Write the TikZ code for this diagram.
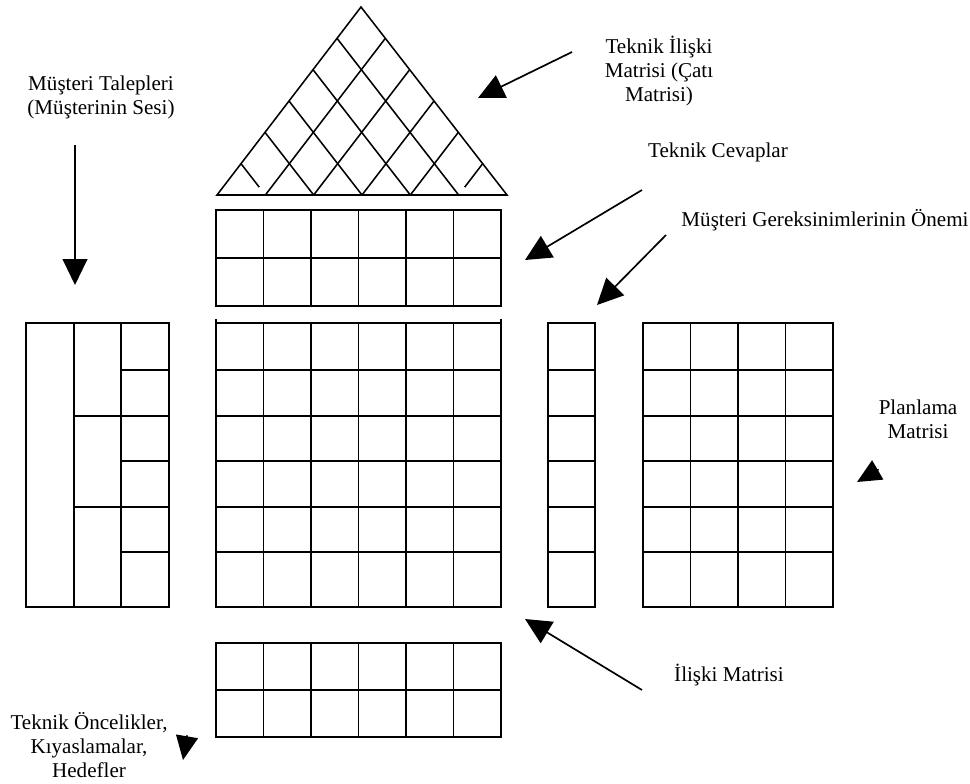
\documentclass[tikz,border=0pt]{standalone}
\usepackage{fontspec}
\setmainfont{Liberation Serif}
\usetikzlibrary{arrows.meta,calc}

\begin{document}
\begin{tikzpicture}[x=0.025cm, y=-0.025cm,
  cell/.style={line width=1.1pt},
  lbl/.style={align=center, font=\fontsize{15}{17}\selectfont, inner sep=0pt},
  bigarrow/.style={line width=1.2pt, -{Triangle[length=0.65cm,width=0.62cm]}},
  smallarrow/.style={line width=1.2pt, -{Triangle[length=0.6cm,width=0.55cm]}}]
  \useasboundingbox (0,0) rectangle (970,783);

  % Roof (correlation matrix)
  \coordinate (apex) at (361,7);
  \coordinate (lb) at (217,195);
  \coordinate (rb) at (507,195);
  \draw[cell] (lb) -- (apex) -- (rb) -- cycle;
  \foreach \i/\e in {1/1,2/1,3/1,4/1,5/0.75} {
    \coordinate (s) at ($(apex)!\i/6!(lb)$);
    \coordinate (t) at ($(rb)!\i/6!(lb)$);
    \draw[cell] (s) -- ($(s)!\e!(t)$);
    \coordinate (s) at ($(apex)!\i/6!(rb)$);
    \coordinate (t) at ($(lb)!\i/6!(rb)$);
    \draw[cell] (s) -- ($(s)!\e!(t)$);
  }

  % Technical responses
  \foreach \c in {0,...,5}
    \foreach \r in {0,1}
      \draw[cell] (216+47.5*\c,210+48*\r) rectangle ++(47.5,48);

  % Customer requirements
  \draw[cell] (26,323) rectangle (169,607);
  \draw[cell] (74,323) -- (74,607);
  \draw[cell] (121,323) -- (121,607);
  \foreach \y in {416,507}
    \draw[cell] (74,\y) -- (121,\y);
  \foreach \y in {370,416,461,507,552}
    \draw[cell] (121,\y) -- (169,\y);

  % Relationship matrix
  \foreach \c in {0,...,5}
    \foreach \y/\h in {323/47,370/46,416/45,461/46,507/45,552/55}
      \draw[cell] (216+47.5*\c,\y) rectangle ++(47.5,\h);
  \draw[cell] (216,319) -- (216,323) (501,319) -- (501,323);

  % Importance column
  \foreach \y/\h in {323/47,370/46,416/45,461/46,507/45,552/55}
    \draw[cell] (548,\y) rectangle ++(47,\h);

  % Planning matrix
  \foreach \c in {0,...,3}
    \foreach \y/\h in {323/47,370/46,416/45,461/46,507/45,552/55}
      \draw[cell] (643+47.5*\c,\y) rectangle ++(47.5,\h);

  % Technical priorities
  \foreach \c in {0,...,5}
    \foreach \r in {0,1}
      \draw[cell] (216+47.5*\c,643+47*\r) rectangle ++(47.5,47);

  % Labels
  \node[lbl] (roofLbl) at (659,71) {Teknik İlişki\\Matrisi (Çatı\\Matrisi)};
  \node[lbl] (vocLbl) at (101,97) {Müşteri Talepleri\\(Müşterinin Sesi)};
  \node[lbl] (respLbl) at (718,152) {Teknik Cevaplar};
  \node[lbl] (impLbl) at (825,220) {Müşteri Gereksinimlerinin Önemi};
  \node[lbl] (planLbl) at (918,419) {Planlama\\Matrisi};
  \node[lbl] (relLbl) at (729,675) {İlişki Matrisi};
  \node[lbl] (prioLbl) at (89,745) {Teknik Öncelikler,\\Kıyaslamalar,\\Hedefler};

  % Arrows
  \coordinate (roofTail) at (572,52);
  \coordinate (roofTip) at (478,98);
  \coordinate (vocTail) at (75,145);
  \coordinate (vocTip) at (75,285);
  \coordinate (respTail) at (642,190);
  \coordinate (respTip) at (525,260);
  \coordinate (impTail) at (666,235);
  \coordinate (impTip) at (597,305);
  \coordinate (planTail) at (878.6,469.4);
  \coordinate (planTip) at (857,482);
  \coordinate (relTail) at (642,690);
  \coordinate (relTip) at (525,619);
  \coordinate (prioTail) at (187.2,735.3);
  \coordinate (prioTip) at (183,760);
  \draw[bigarrow] (roofTail) -- (roofTip);
  \draw[bigarrow] (vocTail) -- (vocTip);
  \draw[bigarrow] (respTail) -- (respTip);
  \draw[bigarrow] (impTail) -- (impTip);
  \draw[bigarrow] (relTail) -- (relTip);
  \draw[smallarrow] (planTail) -- (planTip);
  \draw[smallarrow] (prioTail) -- (prioTip);
\end{tikzpicture}
\end{document}
